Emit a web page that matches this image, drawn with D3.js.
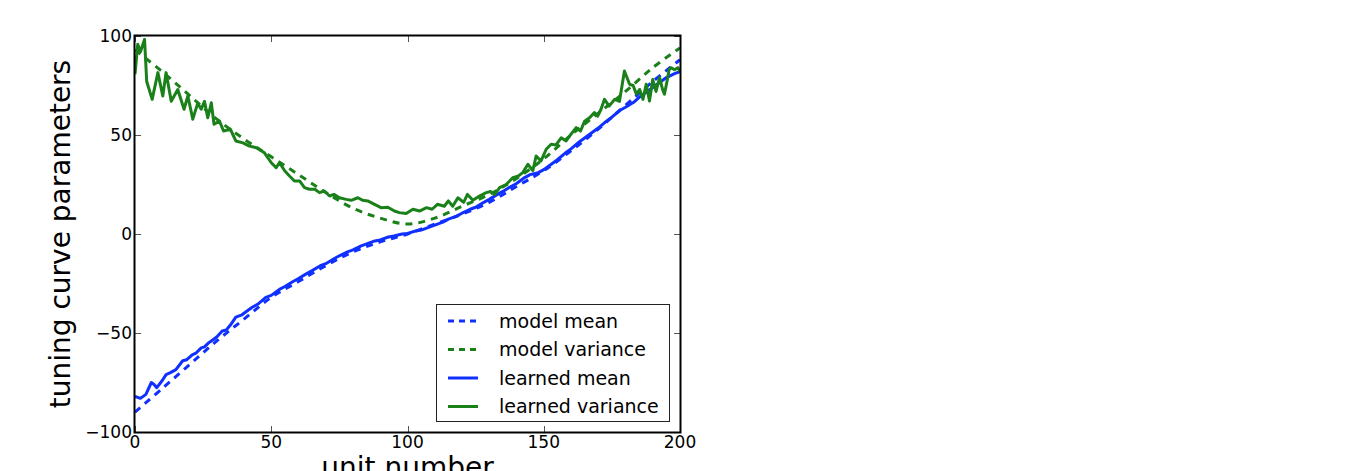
<!DOCTYPE html>
<html>
<head>
<meta charset="utf-8">
<script src="https://cdn.jsdelivr.net/npm/d3@7"></script>
<style>
  html, body { margin: 0; padding: 0; background: #fff; }
  svg { display: block; }
  text { font-family: "DejaVu Sans", sans-serif; fill: #000; }
</style>
</head>
<body>
<svg id="chart" width="1365" height="471"></svg>
<script>
// ---------- data ----------
const modelUnits = [0,10,20,30,40,50,60,70,80,90,100,110,120,130,140,150,160,170,180,190,200];
const modelMean = [-90,-78,-66,-54,-43,-32,-24,-16,-9,-4,0,5,10,16,24,32,42,53,65,77,88];
const modelVariance = [93,82,70,58,48,39,30,21,13,8,5,8,14,20,28,38,50,61,72,84,94];

const learnedMeanUnits = [0,2,4,6,7,8,10,11.4,13,15,17.5,19,21,22.5,24.3,25.5,27,28,30,32,33.5,35,37,39,41,43,45,48,50,53,55,58,60,63,65,68,70,73,75,78,80,83,85,88,90,93,95,98,100,103,105,108,110,113,115,118,120,123,125,128,130,133,135,138,140,143,145,148,150,153,155,158,160,163,165,168,170,173,175,178,180,183,185,188,190,193,195,198,200];
const learnedMean = [-82,-83,-81,-75,-76,-77.6,-74,-71,-70,-68.5,-64,-63.5,-61,-60,-57.5,-57,-55,-54,-52,-49,-48.5,-46,-42,-41,-39,-37,-35.5,-32,-31,-28,-26.5,-24,-22.5,-20,-18.5,-16,-15,-12.5,-11,-9,-8,-6,-5,-3.5,-3,-1.5,-1,0,0.3,1.5,2,3.5,4.5,6,7.5,9,10.5,12.5,13.5,16,17.5,20,21.5,24,25.5,28.5,30,31,32.5,35.5,37.5,41,43,46.5,48.5,51.5,53.5,57,59,62.5,64,66.5,69,72,74,77,79,81,82];

const learnedVarUnits = [0,1,2,3.5,4.3,6.3,8.4,10.2,11.4,13.3,15.7,18,19.4,21.2,23,24.3,25.5,26.7,28,29,31,32.5,35,37,39.6,42,44.5,46.3,47.5,49,50,51.8,53,55,56.7,58.5,60.4,62.2,64,66,67.7,69.5,71.4,73,75,77.5,79.3,81.8,83.6,85.4,87.9,90.3,92.8,95.2,97,99.5,102,104.4,107,109,111,113.5,115,116.6,118.5,120.6,122,124,126.4,128.9,130.5,132,133.8,136.2,138.6,140.5,142.3,144.2,146,147.2,149,150.9,152.7,154.5,156.4,158.2,160,161.9,163.5,165,166.8,168.6,169.8,171,172.3,174,176,177.8,179.6,181.5,182.8,184,185.2,186.4,187.6,188.8,190,191.2,192.5,193.6,194.3,195.5,196,196.8,198,199.2,200];
const learnedVariance = [80.7,95.8,92,98.3,77,68,81.5,69.7,81.5,67,73,63,69.7,58,66,63,67,58.7,66.3,55.4,57,52,52.9,47,46,44.4,43.6,42,41,38,36,33.5,36,31.8,29.3,26.8,26.8,23.4,22.6,22.6,20.9,21.7,19.2,20,18.3,17.5,17,18.3,17,16.7,15,13.3,13.5,11.6,10.8,10.3,12.5,11.6,13.3,12.5,15,14,16.7,14,18.3,16,20,17,19.2,20.9,21.5,20,23.4,25,28.4,29.2,31,35.2,32,39.4,36.9,42.8,45.3,45,48.6,47,50.4,53.7,52,57,58.7,61.3,59.5,63,68,64.6,68,67,82.3,75.6,75,70.6,73,68,75.6,67.2,78,72,79,73,70.6,79,83,84,83,84,82];

const xTicks = [0,50,100,150,200];
const yTicks = [-100,-50,0,50,100];
const legendLabels = ["model mean","model variance","learned mean","learned variance"];

// ---------- layout ----------
const svg = d3.select("#chart");
const L = 135, R = 680, T = 36, B = 432;
const x = d3.scaleLinear().domain([0,200]).range([L,R]);
const y = d3.scaleLinear().domain([-100,100]).range([B,T]);
const BLUE = "#1030ff", GREEN = "#1a801a";
const fmt = v => (v < 0 ? "\u2212" + Math.abs(v) : String(v));

svg.append("defs").append("clipPath").attr("id","clip")
  .append("rect").attr("x",L).attr("y",T).attr("width",R-L).attr("height",B-T);

const plot = svg.append("g").attr("clip-path","url(#clip)");

function zipped(us, vs){ return us.map((u,i)=>[u,vs[i]]); }

const smooth = d3.line().x(d=>x(d[0])).y(d=>y(d[1])).curve(d3.curveCatmullRom);
const straight = d3.line().x(d=>x(d[0])).y(d=>y(d[1]));

const series = [
  {data: zipped(modelUnits, modelMean), color: BLUE, dash: "7,6", gen: smooth},
  {data: zipped(modelUnits, modelVariance), color: GREEN, dash: "7,6", gen: smooth},
  {data: zipped(learnedMeanUnits, learnedMean), color: BLUE, dash: null, gen: straight},
  {data: zipped(learnedVarUnits, learnedVariance), color: GREEN, dash: null, gen: straight}
];

series.forEach(s => {
  plot.append("path")
    .attr("d", s.gen(s.data))
    .attr("fill","none")
    .attr("stroke", s.color)
    .attr("stroke-width", 3)
    .attr("stroke-linejoin","round")
    .attr("stroke-dasharray", s.dash);
});

// ---------- ticks (inward, all four sides) ----------
const tickG = svg.append("g").attr("stroke","#555").attr("stroke-width",1);
xTicks.forEach(t => {
  const px = Math.round(x(t)) + 0.5;
  tickG.append("line").attr("x1",px).attr("x2",px).attr("y1",B).attr("y2",B-6);
  tickG.append("line").attr("x1",px).attr("x2",px).attr("y1",T).attr("y2",T+6);
});
yTicks.forEach(t => {
  const py = Math.round(y(t)) + 0.5;
  tickG.append("line").attr("x1",L).attr("x2",L+6).attr("y1",py).attr("y2",py);
  tickG.append("line").attr("x1",R).attr("x2",R-6).attr("y1",py).attr("y2",py);
});

// frame
svg.append("rect").attr("x",L-0.5).attr("y",T-0.5).attr("width",R-L+1).attr("height",B-T+1)
  .attr("fill","none").attr("stroke","#000").attr("stroke-width",2);

// tick labels
svg.append("g").selectAll("text").data(xTicks).join("text")
  .attr("x", d=>x(d)).attr("y", B+16).attr("text-anchor","middle")
  .attr("font-size",17).text(fmt);
svg.append("g").selectAll("text").data(yTicks).join("text")
  .attr("x", L-3).attr("y", d=>y(d)).attr("dy","0.36em").attr("text-anchor","end")
  .attr("font-size",17).text(fmt);

// axis labels
svg.append("text").attr("x", (L+R)/2).attr("y", 477).attr("text-anchor","middle")
  .attr("font-size",28).text("unit number");
svg.append("text").attr("transform", `translate(70,${(T+B)/2}) rotate(-90)`)
  .attr("text-anchor","middle").attr("font-size",28).text("tuning curve parameters");

// ---------- legend ----------
const lg = svg.append("g");
lg.append("rect").attr("x",436.5).attr("y",304.5).attr("width",233).attr("height",117)
  .attr("fill","#fff").attr("stroke","#222").attr("stroke-width",1);
const rowY = [321, 349.5, 378, 406.5];
legendLabels.forEach((lab,i) => {
  const s = series[i];
  lg.append("line").attr("x1",448).attr("x2",478).attr("y1",rowY[i]).attr("y2",rowY[i])
    .attr("stroke", s.color).attr("stroke-width",3)
    .attr("stroke-dasharray", s.dash ? "6,5" : null);
  lg.append("text").attr("x",499).attr("y",rowY[i]).attr("dy","0.36em")
    .attr("font-size",19).text(lab);
});
</script>
</body>
</html>
